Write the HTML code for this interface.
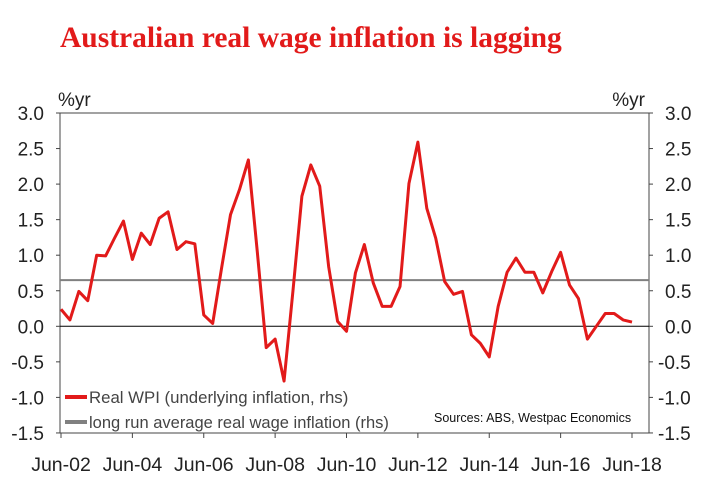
<!DOCTYPE html>
<html><head><meta charset="utf-8"><style>
body{margin:0;background:#fff;width:723px;height:491px;overflow:hidden}
svg text{font-family:"Liberation Sans",sans-serif}
</style></head><body>
<svg width="723" height="491">
<text x="60" y="47" fill="#e21a1a" style="font-family:'Liberation Serif',serif;font-weight:bold;font-size:29.5px">Australian real wage inflation is lagging</text>
<text x="58" y="106" font-size="19" fill="#222">%yr</text>
<text x="645" y="106" font-size="19" fill="#222" text-anchor="end">%yr</text>
<rect x="60" y="113" width="589" height="320" fill="none" stroke="#444" stroke-width="1"/>
<g id="axes"></g>
<line id="avg" stroke="#808080" stroke-width="2"/>
<polyline id="wpi" fill="none" stroke="#e21a1a" stroke-width="3" stroke-linejoin="round"/>
<line x1="65" y1="397" x2="87" y2="397" stroke="#e21a1a" stroke-width="4"/>
<text x="89" y="403" font-size="16.8" fill="#444">Real WPI (underlying inflation, rhs)</text>
<line x1="65" y1="422" x2="87" y2="422" stroke="#808080" stroke-width="4"/>
<text x="89" y="428" font-size="16.5" fill="#444">long run average real wage inflation (rhs)</text>
<text x="434" y="422" font-size="12.5" fill="#111">Sources: ABS, Westpac Economics</text>
</svg>
<script>
const yTicks=[3.0,2.5,2.0,1.5,1.0,0.5,0.0,-0.5,-1.0,-1.5];
const xLabels=["Jun-02","Jun-04","Jun-06","Jun-08","Jun-10","Jun-12","Jun-14","Jun-16","Jun-18"];
const avgValue=0.65;
const wpi=[0.24,0.09,0.49,0.36,1.0,0.99,1.24,1.48,0.94,1.31,1.15,1.52,1.61,1.08,1.19,1.16,0.16,0.04,0.82,1.57,1.92,2.34,1.05,-0.30,-0.18,-0.77,0.5,1.83,2.27,1.97,0.84,0.07,-0.07,0.75,1.15,0.61,0.28,0.28,0.56,2.01,2.59,1.66,1.24,0.63,0.45,0.49,-0.12,-0.24,-0.43,0.28,0.76,0.96,0.76,0.76,0.47,0.77,1.04,0.58,0.39,-0.18,0.0,0.18,0.18,0.09,0.06];
const NS="http://www.w3.org/2000/svg";
const y=v=>326.3-v*71.1;
const x=i=>61+i*(632-61)/64;
const g=document.getElementById('axes');
function mk(t,a){const e=document.createElementNS(NS,t);for(const k in a)e.setAttribute(k,a[k]);g.appendChild(e);return e;}
yTicks.forEach(v=>{
 const l=mk('line',{x1:56,x2:60,y1:y(v),y2:y(v),stroke:'#444'});
 
 
 const r=mk('line',{x1:649,x2:653,y1:y(v),y2:y(v),stroke:'#444'});
 
 
 const t=mk('text',{x:44,y:y(v)+7,'font-size':19,fill:'#222','text-anchor':'end'});t.textContent=v.toFixed(1);
 
 
 const t2=mk('text',{x:v<0?658:665,y:y(v)+7,'font-size':19,fill:'#222'});t2.textContent=v.toFixed(1);
 
 
});
const z=mk('line',{x1:60,x2:649,y1:y(0),y2:y(0),stroke:'#000','stroke-width':1});


xLabels.forEach((s,i)=>{
 const xx=x(i*8);
 const l=mk('line',{x1:xx,x2:xx,y1:433,y2:438,stroke:'#444'});
 
 
 const t=mk('text',{x:xx,y:471,'font-size':19.5,fill:'#222','text-anchor':'middle'});t.textContent=s;
 
 
});
const a=document.getElementById('avg');
a.setAttribute('x1',60);a.setAttribute('x2',649);a.setAttribute('y1',y(avgValue));a.setAttribute('y2',y(avgValue));
document.getElementById('wpi').setAttribute('points',wpi.map((v,i)=>x(i)+','+y(v)).join(' '));
</script>
</body></html>
